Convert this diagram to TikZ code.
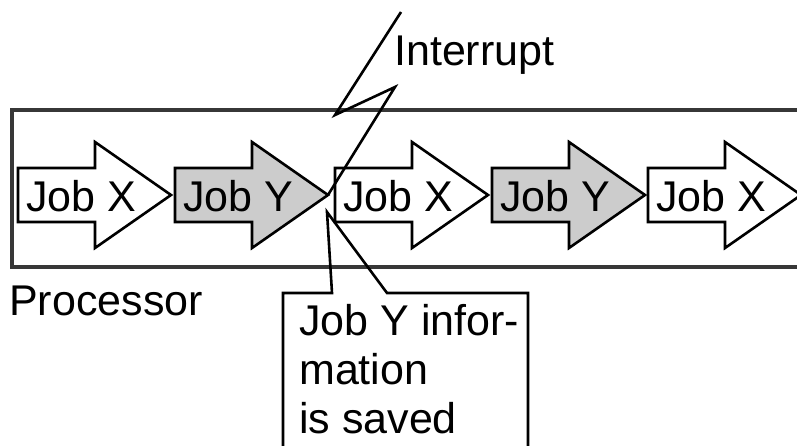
\documentclass[tikz,border=0pt]{standalone}
\usepackage{fontspec}
\setmainfont{Liberation Sans}
\definecolor{jobgray}{RGB}{204,204,204}
\definecolor{framegray}{RGB}{55,55,55}

% One job step: an outlined block arrow with its label inside.
% #1 left x, #2 style, #3 name, #4 label
\newcommand\drawjob[4]{%
  \draw[#2] (#1,168) -- ++(77,0) -- ++(0,-26) -- ++(76,53) -- ++(-76,53)
            -- ++(0,-26) -- ++(-77,0) -- cycle;
  \coordinate (#3tip) at (#1+153,195);
  \node[lbl] (#3) at (#1+8,211) {#4};
}

\begin{document}
\begin{tikzpicture}[x=1pt,y=-1pt,
  lbl/.style={font=\fontsize{43}{49}\selectfont, inner sep=0pt, anchor=base west},
  jobarrow/.style={draw=black, line width=2.6pt, line join=miter},
  jobx/.style={jobarrow, fill=white},
  joby/.style={jobarrow, fill=jobgray},
  procbox/.style={draw=framegray, line width=3.2pt},
  wire/.style={draw=black, line width=2.6pt, line join=miter}]
\useasboundingbox (0,0) rectangle (797,445);
\clip (0,0) rectangle (797,445);

% processor band
\draw[procbox] (12,110) rectangle (815,267);
\node[lbl] (proc) at (9,315) {Processor};

% sequence of jobs
\drawjob{18}{jobx}{j1}{Job X}
\drawjob{175}{joby}{j2}{Job Y}
\drawjob{335}{jobx}{j3}{Job X}
\drawjob{492}{joby}{j4}{Job Y}
\drawjob{648}{jobx}{j5}{Job X}

% interrupt lightning bolt
\coordinate (zap) at (401,12);
\coordinate (zapa) at (335,115);
\coordinate (zapb) at (395,87);
\draw[wire] (zap) -- (zapa) -- (zapb) -- (j2tip);
\node[lbl] (intr) at (394,65) {Interrupt};

% callout noting the saved state
\coordinate (savept) at (327,212);
\coordinate (calloutL) at (283,460);
\coordinate (calloutR) at (528,460);
\draw[wire] (calloutL) -- (283,293) -- (332,293) -- (savept) -- (387,293)
            -- (528,293) -- (calloutR);
\node[lbl] (save1) at (299,335) {Job Y infor-};
\node[lbl] (save2) at (299,384) {mation};
\node[lbl] (save3) at (299,433) {is saved};
\end{tikzpicture}
\end{document}
